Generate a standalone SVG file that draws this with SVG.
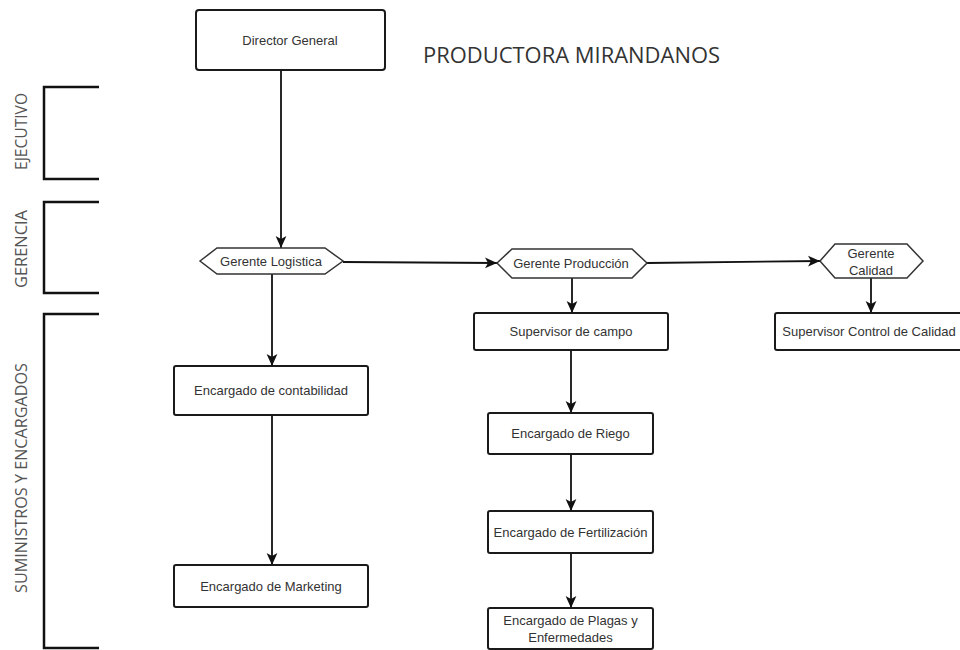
<svg xmlns="http://www.w3.org/2000/svg" width="960" height="650" viewBox="0 0 960 650">
<defs>
<marker id="arr" markerUnits="userSpaceOnUse" markerWidth="12" markerHeight="12" viewBox="0 0 10 10" refX="10" refY="5" orient="auto">
<path d="M0,0.5 L10,5 L0,9.5 L2.5,5 z" fill="#111"/>
</marker>
</defs>
<style>
.box{fill:#fff;stroke:#1a1a1a;stroke-width:2}
.hex{fill:#fff;stroke:#333;stroke-width:1.5}
.t{font-family:"Liberation Sans",Arial,sans-serif;font-size:13px;fill:#333;text-anchor:middle;dominant-baseline:central}
.side{font-family:"Open Sans","Noto Sans",sans-serif;font-size:16px;fill:#555;text-anchor:middle;dominant-baseline:central}
.br{fill:none;stroke:#111;stroke-width:2.5}
.c{fill:none;stroke:#111;stroke-width:1.8;marker-end:url(#arr)}
</style>
<rect width="960" height="650" fill="#fff"/>
<g id="levels">
<path class="br" d="M99,87 H44 V179 H99"/>
<path class="br" d="M99,202 H44 V293 H99"/>
<path class="br" d="M99,314 H44 V648 H99"/>
<text class="side" transform="translate(21,131.5) rotate(-90)" textLength="77" lengthAdjust="spacingAndGlyphs">EJECUTIVO</text>
<text class="side" transform="translate(21,249) rotate(-90)" textLength="78" lengthAdjust="spacingAndGlyphs">GERENCIA</text>
<text class="side" transform="translate(21,478) rotate(-90)" textLength="230" lengthAdjust="spacingAndGlyphs">SUMINISTROS Y ENCARGADOS</text>
</g>
<text id="title" x="423" y="63" font-family="'Open Sans','Noto Sans',sans-serif" font-size="22" fill="#333" textLength="297" lengthAdjust="spacingAndGlyphs">PRODUCTORA MIRANDANOS</text>
<g id="connectors">
<line class="c" x1="281" y1="70" x2="281" y2="248"/>
<line class="c" x1="343" y1="262" x2="497" y2="263"/>
<line class="c" x1="647" y1="263" x2="820" y2="261"/>
<line class="c" x1="572" y1="278" x2="572" y2="313"/>
<line class="c" x1="871" y1="278" x2="871" y2="313"/>
<line class="c" x1="272" y1="274" x2="272" y2="366"/>
<line class="c" x1="272" y1="415" x2="272" y2="565"/>
<line class="c" x1="571" y1="350" x2="571" y2="413"/>
<line class="c" x1="571" y1="454" x2="571" y2="511"/>
<line class="c" x1="571" y1="553" x2="571" y2="608"/>
</g>
<g id="director">
<rect class="box" x="196" y="10" width="189" height="60" rx="3"/>
<text class="t" x="290" y="40">Director General</text>
</g>
<g id="gerente-logistica">
<polygon class="hex" points="200,261 217,248 325,248 343,261 325,274 217,274"/>
<text class="t" x="271" y="261">Gerente Logistica</text>
</g>
<g id="gerente-produccion">
<polygon class="hex" points="497,263 512,249 632,249 647,263 632,278 512,278"/>
<text class="t" x="571" y="263.5">Gerente Producción</text>
</g>
<g id="gerente-calidad">
<polygon class="hex" points="820,261 835,244 907,244 923,261 907,278 835,278"/>
<text class="t" x="871" y="253">Gerente</text>
<text class="t" x="871" y="270">Calidad</text>
</g>
<g id="supervisor-campo">
<rect class="box" x="474" y="313" width="194" height="37" rx="2"/>
<text class="t" x="571" y="331.5">Supervisor de campo</text>
</g>
<g id="supervisor-calidad">
<rect class="box" x="775" y="313" width="188" height="37" rx="2"/>
<text class="t" x="869" y="331.5">Supervisor Control de Calidad</text>
</g>
<g id="contabilidad">
<rect class="box" x="174" y="366" width="194" height="49" rx="2"/>
<text class="t" x="271" y="390.5">Encargado de contabilidad</text>
</g>
<g id="marketing">
<rect class="box" x="174" y="565" width="194" height="42" rx="2"/>
<text class="t" x="271" y="586">Encargado de Marketing</text>
</g>
<g id="riego">
<rect class="box" x="488" y="413" width="165" height="41" rx="2"/>
<text class="t" x="570.5" y="433.5">Encargado de Riego</text>
</g>
<g id="fertilizacion">
<rect class="box" x="488" y="511" width="165" height="42" rx="2"/>
<text class="t" x="570.5" y="532">Encargado de Fertilización</text>
</g>
<g id="plagas">
<rect class="box" x="488" y="608" width="165" height="41" rx="2"/>
<text class="t" x="570.5" y="620.5">Encargado de Plagas y</text>
<text class="t" x="570.5" y="637">Enfermedades</text>
</g>
</svg>
